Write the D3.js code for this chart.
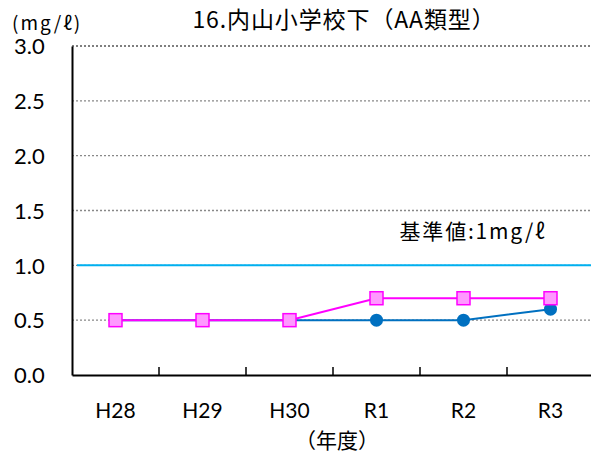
<!DOCTYPE html>
<html><head><meta charset="utf-8">
<script src="https://cdn.jsdelivr.net/npm/d3@7"></script>
<style>body{margin:0;background:#fff}svg{display:block}</style>
</head><body>
<svg id="c" width="591" height="464"></svg>
<script>
const categories = ["H28","H29","H30","R1","R2","R3"];
const seriesBlue = [0.5,0.5,0.5,0.5,0.5,0.6];
const seriesPink = [0.5,0.5,0.5,0.7,0.7,0.7];
const yTicks = [0,0.5,1.0,1.5,2.0,2.5,3.0];
const standardValue = 1.0;
const title = "16.内山小学校下（AA類型）";
const yUnit = "(mg/ℓ)";
const xTitle = "（年度）";
const standardLabel = "基準値:1mg/ℓ";

const svg = d3.select("#c");
const L = 72, R = 594, T = 46, B = 375;
const x = d3.scaleBand().domain(categories).range([L, R]);
const y = d3.scaleLinear().domain([0, 3]).range([B, T]);
const jp = "'Noto Sans CJK JP', sans-serif";
const num = "Lato, 'Open Sans', sans-serif";

// gridlines
svg.append("g").selectAll("line").data(yTicks.filter(d => d > 0)).join("line")
  .attr("x1", L).attr("x2", R).attr("y1", d => y(d)).attr("y2", d => y(d))
  .attr("stroke", d => d === 3 ? "#555" : "#888").attr("stroke-width", 1.3).attr("stroke-dasharray", "2,2");

// standard line
svg.append("line").attr("x1", L + 5).attr("x2", R).attr("y1", y(standardValue)).attr("y2", y(standardValue))
  .attr("stroke", "#00b0f0").attr("stroke-width", 2);

// axes
const yAxis = svg.append("g").attr("transform", `translate(${L},0)`)
  .call(d3.axisLeft(y).tickValues(yTicks).tickFormat(d3.format(".1f")).tickSize(0));
yAxis.select(".domain").attr("stroke", "#000").attr("stroke-width", 2);
yAxis.selectAll("text").attr("font-family", num).attr("font-size", 22).attr("fill", "#000")
  .attr("text-anchor", "start").attr("x", -58).attr("dy", "0.35em");

const xAxis = svg.append("g").attr("transform", `translate(0,${B})`)
  .call(d3.axisBottom(x).tickSize(0).tickPadding(0));
xAxis.select(".domain").attr("stroke", "#000").attr("stroke-width", 2);
xAxis.selectAll("text").attr("font-family", num).attr("font-size", 21).attr("fill", "#000")
  .attr("y", 36).attr("dy", "0.35em");
// inner tick marks at band boundaries
svg.append("g").selectAll("line").data(categories.slice(1)).join("line")
  .attr("x1", d => x(d)).attr("x2", d => x(d)).attr("y1", B).attr("y2", B - 8)
  .attr("stroke", "#000").attr("stroke-width", 1.5);

const cx = d => x(d) + x.bandwidth() / 2;
const line = d3.line().x(d => cx(d[0])).y(d => y(d[1]));

// blue series
svg.append("path").datum(categories.map((c, i) => [c, seriesBlue[i]]))
  .attr("d", line).attr("fill", "none").attr("stroke", "#0070c0").attr("stroke-width", 2);
svg.append("g").selectAll("circle").data(categories.map((c, i) => [c, seriesBlue[i]])).join("circle")
  .attr("cx", d => cx(d[0])).attr("cy", d => y(d[1])).attr("r", 6.5).attr("fill", "#0070c0");

// pink series
svg.append("path").datum(categories.map((c, i) => [c, seriesPink[i]]))
  .attr("d", line).attr("fill", "none").attr("stroke", "#ff00ff").attr("stroke-width", 2);
svg.append("g").selectAll("rect").data(categories.map((c, i) => [c, seriesPink[i]])).join("rect")
  .attr("x", d => cx(d[0]) - 6.5).attr("y", d => y(d[1]) - 6.5).attr("width", 13).attr("height", 13)
  .attr("fill", "#ff99ff").attr("stroke", "#ff00ff").attr("stroke-width", 1.5);

// texts
svg.append("text").attr("x", 344).attr("y", 20).attr("dy", "0.35em").attr("text-anchor", "middle")
  .attr("font-family", jp).attr("font-size", 23).attr("letter-spacing", 0.9).text(title);
svg.append("text").attr("x", 12).attr("y", 23).attr("dy", "0.35em").attr("font-family", jp)
  .attr("font-size", 19).attr("letter-spacing", 2).text(yUnit);
svg.append("text").attr("x", 473).attr("y", 232).attr("dy", "0.35em").attr("text-anchor", "middle")
  .attr("font-family", jp).attr("font-size", 21).attr("letter-spacing", 1.8).text(standardLabel);
svg.append("text").attr("x", 337).attr("y", 441).attr("dy", "0.35em").attr("text-anchor", "middle")
  .attr("font-family", jp).attr("font-size", 21).text(xTitle);
</script>
</body></html>
